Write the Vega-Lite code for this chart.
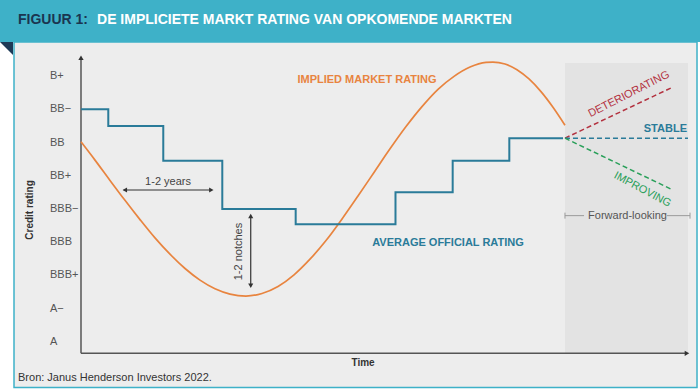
{
 "$schema": "https://vega.github.io/schema/vega-lite/v6.json",
 "width": 700, "height": 390, "autosize": {"type": "none"}, "padding": 0,
 "background": "#ffffff",
 "config": {"view": {"stroke": null}, "text": {"font": "Liberation Sans"}},
 "data": {"values": [{}]},
 "datasets": {
  "implied": [
   {"t":0,"v":6.02},{"t":2.30,"v":5.47},{"t":4.76,"v":4.86},{"t":7.22,"v":4.26},{"t":9.69,"v":3.68},{"t":12.15,"v":3.13},{"t":14.61,"v":2.64},{"t":17.08,"v":2.21},{"t":19.54,"v":1.86},{"t":22.00,"v":1.60},{"t":24.47,"v":1.44},{"t":27.09,"v":1.38},{"t":29.72,"v":1.46},{"t":32.35,"v":1.67},{"t":34.98,"v":2.02},{"t":37.60,"v":2.49},{"t":40.23,"v":3.05},{"t":42.86,"v":3.70},{"t":45.48,"v":4.39},{"t":48.11,"v":5.10},{"t":50.74,"v":5.81},{"t":53.37,"v":6.48},{"t":55.99,"v":7.08},{"t":58.62,"v":7.60},{"t":61.25,"v":7.99},{"t":63.88,"v":8.27},{"t":66.50,"v":8.41},{"t":67.65,"v":8.42},{"t":69.62,"v":8.36},{"t":71.59,"v":8.19},{"t":73.56,"v":7.91},{"t":75.53,"v":7.53},{"t":77.50,"v":7.06},{"t":79.47,"v":6.52}
  ],
  "official": [
   {"t":0,"v":7.0},{"t":4.48,"v":6.5},{"t":13.51,"v":5.45},{"t":23.20,"v":4.0},{"t":35.25,"v":3.54},{"t":51.64,"v":4.5},{"t":61.03,"v":5.45},{"t":70.33,"v":6.13},{"t":79.15,"v":6.13}
  ],
  "forward": [
   {"scenario":"Deteriorating","t":79.47,"v":6.13},{"scenario":"Deteriorating","t":97.21,"v":7.67},
   {"scenario":"Stable","t":79.47,"v":6.13},{"scenario":"Stable","t":99.67,"v":6.13},
   {"scenario":"Improving","t":79.47,"v":6.13},{"scenario":"Improving","t":97.21,"v":4.57}
  ],
  "ratings": [
   {"rating":"A","v":0},{"rating":"A−","v":1},{"rating":"BBB+","v":2},{"rating":"BBB","v":3},{"rating":"BBB−","v":4},{"rating":"BB+","v":5},{"rating":"BB","v":6},{"rating":"BB−","v":7},{"rating":"B+","v":8}
  ]
 },
 "layer": [
  {"mark": {"type":"rect","fill":"#ededed","stroke":"#3eb1c8","strokeWidth":1.5},
   "encoding": {"x":{"datum":-11.0,"type":"quantitative","scale":{"domain":[-13.3,101.64],"nice":false,"zero":false},"axis":null},"x2":{"datum":101.15},
                "y":{"datum":-1.368,"type":"quantitative","scale":{"domain":[-1.444,10.286],"nice":false,"zero":false},"axis":null},"y2":{"datum":9.023}}},
  {"mark": {"type":"rect","fill":"#3eb1c8"},
   "encoding": {"x":{"datum":-13.3,"type":"quantitative","scale":{"domain":[-13.3,101.64],"nice":false,"zero":false},"axis":null},"x2":{"datum":101.64},
                "y":{"datum":9.023,"type":"quantitative","scale":{"domain":[-1.444,10.286],"nice":false,"zero":false},"axis":null},"y2":{"datum":10.286}}},
  {"mark": {"type":"point","shape":"M-1,-1L1,-1L1,1Z","filled":true,"fill":"#1e3a56","opacity":1,"size":169,"strokeWidth":0},
   "encoding": {"x":{"datum":-12.23,"type":"quantitative","scale":{"domain":[-13.3,101.64],"nice":false,"zero":false},"axis":null},
                "y":{"datum":8.827,"type":"quantitative","scale":{"domain":[-1.444,10.286],"nice":false,"zero":false},"axis":null}}},
  {"mark": {"type":"rect","fill":"#e3e3e3"},
   "encoding": {"x":{"datum":79.47,"type":"quantitative","scale":{"domain":[-13.3,101.64],"nice":false,"zero":false},"axis":null},"x2":{"datum":99.67},
                "y":{"datum":-0.34,"type":"quantitative","scale":{"domain":[-1.444,10.286],"nice":false,"zero":false},"axis":null},"y2":{"datum":8.39}}},
  {"mark": {"type":"text","text":"FIGUUR 1:","align":"left","baseline":"middle","fontSize":14,"fontWeight":"bold","color":"#1b3550"},
   "encoding": {"x":{"datum":-10.34,"type":"quantitative","scale":{"domain":[-13.3,101.64],"nice":false,"zero":false},"axis":null},
                "y":{"datum":9.684,"type":"quantitative","scale":{"domain":[-1.444,10.286],"nice":false,"zero":false},"axis":null}}},
  {"mark": {"type":"text","text":"DE IMPLICIETE MARKT RATING VAN OPKOMENDE MARKTEN","align":"left","baseline":"middle","fontSize":14,"fontWeight":"bold","color":"#ffffff"},
   "encoding": {"x":{"datum":2.63,"type":"quantitative","scale":{"domain":[-13.3,101.64],"nice":false,"zero":false},"axis":null},
                "y":{"datum":9.684,"type":"quantitative","scale":{"domain":[-1.444,10.286],"nice":false,"zero":false},"axis":null}}},
  {"data": {"name":"ratings"},
   "mark": {"type":"text","align":"left","baseline":"middle","fontSize":11,"color":"#555555"},
   "encoding": {"x":{"datum":-5.09,"type":"quantitative","scale":{"domain":[-13.3,101.64],"nice":false,"zero":false},"axis":null},
                "y":{"field":"v","type":"quantitative","scale":{"domain":[-1.444,10.286],"nice":false,"zero":false},"axis":null},
                "text":{"field":"rating"}}},
  {"mark": {"type":"text","text":"Credit rating","align":"center","baseline":"middle","angle":270,"fontSize":10,"fontWeight":"bold","color":"#333333"},
   "encoding": {"x":{"datum":-8.37,"type":"quantitative","scale":{"domain":[-13.3,101.64],"nice":false,"zero":false},"axis":null},
                "y":{"datum":3.97,"type":"quantitative","scale":{"domain":[-1.444,10.286],"nice":false,"zero":false},"axis":null}}},
  {"mark": {"type":"rule","color":"#555555","strokeWidth":1.5},
   "encoding": {"x":{"datum":0,"type":"quantitative","scale":{"domain":[-13.3,101.64],"nice":false,"zero":false},"axis":null},
                "y":{"datum":-0.34,"type":"quantitative","scale":{"domain":[-1.444,10.286],"nice":false,"zero":false},"axis":null},"y2":{"datum":8.5}}},
  {"mark": {"type":"rule","color":"#555555","strokeWidth":1.5},
   "encoding": {"x":{"datum":0,"type":"quantitative","scale":{"domain":[-13.3,101.64],"nice":false,"zero":false},"axis":null},"x2":{"datum":99.4},
                "y":{"datum":-0.34,"type":"quantitative","scale":{"domain":[-1.444,10.286],"nice":false,"zero":false},"axis":null}}},
  {"mark": {"type":"point","shape":"triangle-up","filled":true,"color":"#333333","opacity":1,"size":28},
   "encoding": {"x":{"datum":0,"type":"quantitative","scale":{"domain":[-13.3,101.64],"nice":false,"zero":false},"axis":null},
                "y":{"datum":8.55,"type":"quantitative","scale":{"domain":[-1.444,10.286],"nice":false,"zero":false},"axis":null}}},
  {"mark": {"type":"point","shape":"triangle-right","filled":true,"color":"#333333","opacity":1,"size":28},
   "encoding": {"x":{"datum":99.5,"type":"quantitative","scale":{"domain":[-13.3,101.64],"nice":false,"zero":false},"axis":null},
                "y":{"datum":-0.34,"type":"quantitative","scale":{"domain":[-1.444,10.286],"nice":false,"zero":false},"axis":null}}},
  {"mark": {"type":"text","text":"Time","align":"center","baseline":"middle","fontSize":10,"fontWeight":"bold","color":"#333333"},
   "encoding": {"x":{"datum":46.31,"type":"quantitative","scale":{"domain":[-13.3,101.64],"nice":false,"zero":false},"axis":null},
                "y":{"datum":-0.632,"type":"quantitative","scale":{"domain":[-1.444,10.286],"nice":false,"zero":false},"axis":null}}},
  {"mark": {"type":"text","text":"Bron: Janus Henderson Investors 2022.","align":"left","baseline":"middle","fontSize":11,"color":"#333333"},
   "encoding": {"x":{"datum":-10.34,"type":"quantitative","scale":{"domain":[-13.3,101.64],"nice":false,"zero":false},"axis":null},
                "y":{"datum":-1.083,"type":"quantitative","scale":{"domain":[-1.444,10.286],"nice":false,"zero":false},"axis":null}}},
  {"data": {"name":"implied"},
   "mark": {"type":"line","color":"#e8843f","strokeWidth":1.7,"interpolate":"monotone"},
   "encoding": {"x":{"field":"t","type":"quantitative","scale":{"domain":[-13.3,101.64],"nice":false,"zero":false},"axis":null},
                "y":{"field":"v","type":"quantitative","scale":{"domain":[-1.444,10.286],"nice":false,"zero":false},"axis":null}}},
  {"data": {"name":"official"},
   "mark": {"type":"line","color":"#2a7b99","strokeWidth":2,"interpolate":"step-after"},
   "encoding": {"x":{"field":"t","type":"quantitative","scale":{"domain":[-13.3,101.64],"nice":false,"zero":false},"axis":null},
                "y":{"field":"v","type":"quantitative","scale":{"domain":[-1.444,10.286],"nice":false,"zero":false},"axis":null}}},
  {"data": {"name":"forward"},
   "mark": {"type":"line","strokeWidth":1.5,"strokeDash":[5,3]},
   "encoding": {"x":{"field":"t","type":"quantitative","scale":{"domain":[-13.3,101.64],"nice":false,"zero":false},"axis":null},
                "y":{"field":"v","type":"quantitative","scale":{"domain":[-1.444,10.286],"nice":false,"zero":false},"axis":null},
                "color":{"field":"scenario","type":"nominal","scale":{"domain":["Deteriorating","Stable","Improving"],"range":["#b3313f","#2a7b99","#2aa05a"]},"legend":null}}},
  {"mark": {"type":"text","text":"IMPLIED MARKET RATING","align":"center","baseline":"middle","fontSize":11,"fontWeight":"bold","color":"#e8843f"},
   "encoding": {"x":{"datum":46.96,"type":"quantitative","scale":{"domain":[-13.3,101.64],"nice":false,"zero":false},"axis":null},
                "y":{"datum":7.88,"type":"quantitative","scale":{"domain":[-1.444,10.286],"nice":false,"zero":false},"axis":null}}},
  {"mark": {"type":"text","text":"AVERAGE OFFICIAL RATING","align":"center","baseline":"middle","fontSize":11,"fontWeight":"bold","color":"#2a7b99"},
   "encoding": {"x":{"datum":60.26,"type":"quantitative","scale":{"domain":[-13.3,101.64],"nice":false,"zero":false},"axis":null},
                "y":{"datum":2.99,"type":"quantitative","scale":{"domain":[-1.444,10.286],"nice":false,"zero":false},"axis":null}}},
  {"mark": {"type":"text","text":"STABLE","align":"right","baseline":"middle","fontSize":11,"fontWeight":"bold","color":"#2a7b99"},
   "encoding": {"x":{"datum":99.5,"type":"quantitative","scale":{"domain":[-13.3,101.64],"nice":false,"zero":false},"axis":null},
                "y":{"datum":6.40,"type":"quantitative","scale":{"domain":[-1.444,10.286],"nice":false,"zero":false},"axis":null}}},
  {"mark": {"type":"text","text":"DETERIORATING","align":"center","baseline":"middle","angle":333,"fontSize":11,"color":"#b3313f"},
   "encoding": {"x":{"datum":89.98,"type":"quantitative","scale":{"domain":[-13.3,101.64],"nice":false,"zero":false},"axis":null},
                "y":{"datum":7.45,"type":"quantitative","scale":{"domain":[-1.444,10.286],"nice":false,"zero":false},"axis":null}}},
  {"mark": {"type":"text","text":"IMPROVING","align":"center","baseline":"middle","angle":28,"fontSize":11,"color":"#2aa05a"},
   "encoding": {"x":{"datum":92.2,"type":"quantitative","scale":{"domain":[-13.3,101.64],"nice":false,"zero":false},"axis":null},
                "y":{"datum":4.58,"type":"quantitative","scale":{"domain":[-1.444,10.286],"nice":false,"zero":false},"axis":null}}},
  {"mark": {"type":"text","text":"Forward-looking","align":"center","baseline":"middle","fontSize":11,"color":"#555555"},
   "encoding": {"x":{"datum":89.74,"type":"quantitative","scale":{"domain":[-13.3,101.64],"nice":false,"zero":false},"axis":null},
                "y":{"datum":3.80,"type":"quantitative","scale":{"domain":[-1.444,10.286],"nice":false,"zero":false},"axis":null}}},
  {"mark": {"type":"rule","color":"#9a9a9a","strokeWidth":1},
   "encoding": {"x":{"datum":79.47,"type":"quantitative","scale":{"domain":[-13.3,101.64],"nice":false,"zero":false},"axis":null},"x2":{"datum":82.6},
                "y":{"datum":3.80,"type":"quantitative","scale":{"domain":[-1.444,10.286],"nice":false,"zero":false},"axis":null}}},
  {"mark": {"type":"rule","color":"#9a9a9a","strokeWidth":1},
   "encoding": {"x":{"datum":96.2,"type":"quantitative","scale":{"domain":[-13.3,101.64],"nice":false,"zero":false},"axis":null},"x2":{"datum":100},
                "y":{"datum":3.80,"type":"quantitative","scale":{"domain":[-1.444,10.286],"nice":false,"zero":false},"axis":null}}},
  {"mark": {"type":"rule","color":"#9a9a9a","strokeWidth":1},
   "encoding": {"x":{"datum":79.47,"type":"quantitative","scale":{"domain":[-13.3,101.64],"nice":false,"zero":false},"axis":null},
                "y":{"datum":3.71,"type":"quantitative","scale":{"domain":[-1.444,10.286],"nice":false,"zero":false},"axis":null},"y2":{"datum":3.89}}},
  {"mark": {"type":"rule","color":"#9a9a9a","strokeWidth":1},
   "encoding": {"x":{"datum":100,"type":"quantitative","scale":{"domain":[-13.3,101.64],"nice":false,"zero":false},"axis":null},
                "y":{"datum":3.71,"type":"quantitative","scale":{"domain":[-1.444,10.286],"nice":false,"zero":false},"axis":null},"y2":{"datum":3.89}}},
  {"mark": {"type":"text","text":"1-2 years","align":"center","baseline":"middle","fontSize":11,"color":"#444444"},
   "encoding": {"x":{"datum":14.29,"type":"quantitative","scale":{"domain":[-13.3,101.64],"nice":false,"zero":false},"axis":null},
                "y":{"datum":4.80,"type":"quantitative","scale":{"domain":[-1.444,10.286],"nice":false,"zero":false},"axis":null}}},
  {"mark": {"type":"rule","color":"#333333","strokeWidth":1.2},
   "encoding": {"x":{"datum":7.0,"type":"quantitative","scale":{"domain":[-13.3,101.64],"nice":false,"zero":false},"axis":null},"x2":{"datum":21.5},
                "y":{"datum":4.571,"type":"quantitative","scale":{"domain":[-1.444,10.286],"nice":false,"zero":false},"axis":null}}},
  {"mark": {"type":"point","shape":"triangle-left","filled":true,"color":"#333333","opacity":1,"size":26},
   "encoding": {"x":{"datum":7.2,"type":"quantitative","scale":{"domain":[-13.3,101.64],"nice":false,"zero":false},"axis":null},
                "y":{"datum":4.571,"type":"quantitative","scale":{"domain":[-1.444,10.286],"nice":false,"zero":false},"axis":null}}},
  {"mark": {"type":"point","shape":"triangle-right","filled":true,"color":"#333333","opacity":1,"size":26},
   "encoding": {"x":{"datum":21.4,"type":"quantitative","scale":{"domain":[-13.3,101.64],"nice":false,"zero":false},"axis":null},
                "y":{"datum":4.571,"type":"quantitative","scale":{"domain":[-1.444,10.286],"nice":false,"zero":false},"axis":null}}},
  {"mark": {"type":"text","text":"1-2 notches","align":"center","baseline":"middle","angle":270,"fontSize":11,"color":"#444444"},
   "encoding": {"x":{"datum":26.0,"type":"quantitative","scale":{"domain":[-13.3,101.64],"nice":false,"zero":false},"axis":null},
                "y":{"datum":2.72,"type":"quantitative","scale":{"domain":[-1.444,10.286],"nice":false,"zero":false},"axis":null}}},
  {"mark": {"type":"rule","color":"#333333","strokeWidth":1.2},
   "encoding": {"x":{"datum":27.87,"type":"quantitative","scale":{"domain":[-13.3,101.64],"nice":false,"zero":false},"axis":null},
                "y":{"datum":1.68,"type":"quantitative","scale":{"domain":[-1.444,10.286],"nice":false,"zero":false},"axis":null},"y2":{"datum":3.80}}},
  {"mark": {"type":"point","shape":"triangle-up","filled":true,"color":"#333333","opacity":1,"size":26},
   "encoding": {"x":{"datum":27.87,"type":"quantitative","scale":{"domain":[-13.3,101.64],"nice":false,"zero":false},"axis":null},
                "y":{"datum":3.79,"type":"quantitative","scale":{"domain":[-1.444,10.286],"nice":false,"zero":false},"axis":null}}},
  {"mark": {"type":"point","shape":"triangle-down","filled":true,"color":"#333333","opacity":1,"size":26},
   "encoding": {"x":{"datum":27.87,"type":"quantitative","scale":{"domain":[-13.3,101.64],"nice":false,"zero":false},"axis":null},
                "y":{"datum":1.69,"type":"quantitative","scale":{"domain":[-1.444,10.286],"nice":false,"zero":false},"axis":null}}}
 ]
}
